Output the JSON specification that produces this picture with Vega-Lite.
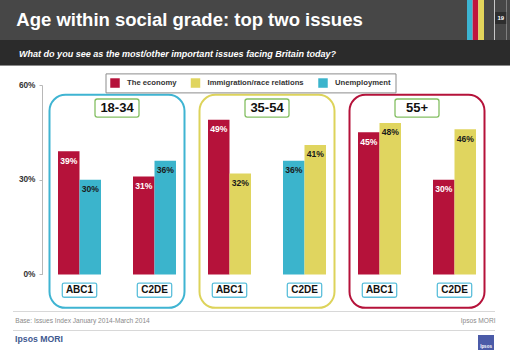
{
  "$schema": "https://vega.github.io/schema/vega-lite/v6.json",
  "background": "white",
  "padding": 0,
  "spacing": 0,
  "resolve": {"scale": {"color": "independent"}, "legend": {"color": "independent"}},
  "config": {"view": {"stroke": null}, "concat": {"spacing": 0}, "font": "Liberation Sans"},
  "datasets": {
    "bars": [
      {"age": "18-34", "grade": "ABC1", "grp": "18-34 ABC1", "issue": "The economy", "value": 0.39},
      {"age": "18-34", "grade": "ABC1", "grp": "18-34 ABC1", "issue": "Unemployment", "value": 0.30},
      {"age": "18-34", "grade": "C2DE", "grp": "18-34 C2DE", "issue": "The economy", "value": 0.31},
      {"age": "18-34", "grade": "C2DE", "grp": "18-34 C2DE", "issue": "Unemployment", "value": 0.36},
      {"age": "35-54", "grade": "ABC1", "grp": "35-54 ABC1", "issue": "The economy", "value": 0.49},
      {"age": "35-54", "grade": "ABC1", "grp": "35-54 ABC1", "issue": "Immigration/race relations", "value": 0.32},
      {"age": "35-54", "grade": "C2DE", "grp": "35-54 C2DE", "issue": "Unemployment", "value": 0.36},
      {"age": "35-54", "grade": "C2DE", "grp": "35-54 C2DE", "issue": "Immigration/race relations", "value": 0.41},
      {"age": "55+", "grade": "ABC1", "grp": "55+ ABC1", "issue": "The economy", "value": 0.45},
      {"age": "55+", "grade": "ABC1", "grp": "55+ ABC1", "issue": "Immigration/race relations", "value": 0.48},
      {"age": "55+", "grade": "C2DE", "grp": "55+ C2DE", "issue": "The economy", "value": 0.30},
      {"age": "55+", "grade": "C2DE", "grp": "55+ C2DE", "issue": "Immigration/race relations", "value": 0.46}
    ],
    "groups": [
      {"age": "18-34", "first": "18-34 ABC1", "last": "18-34 C2DE"},
      {"age": "35-54", "first": "35-54 ABC1", "last": "35-54 C2DE"},
      {"age": "55+", "first": "55+ ABC1", "last": "55+ C2DE"}
    ],
    "grades": [
      {"grp": "18-34 ABC1", "grade": "ABC1"},
      {"grp": "18-34 C2DE", "grade": "C2DE"},
      {"grp": "35-54 ABC1", "grade": "ABC1"},
      {"grp": "35-54 C2DE", "grade": "C2DE"},
      {"grp": "55+ ABC1", "grade": "ABC1"},
      {"grp": "55+ C2DE", "grade": "C2DE"}
    ]
  },
  "vconcat": [
    {
      "spacing": 0,
      "hconcat": [
        {"width": 379, "height": 40, "data": {"values": [{}]}, "layer": [
          {"mark": {"type": "rect", "fill": "#474747"}, "encoding": {}},
          {"mark": {"type": "text", "text": "Age within social grade: top two issues", "fill": "white", "fontSize": 18.5, "fontWeight": "bold", "baseline": "middle", "align": "center"}, "encoding": {}}
        ]},
        {"width": 88, "height": 40, "data": {"values": [{}]}, "mark": {"type": "rect", "fill": "#474747"}, "encoding": {}},
        {"width": 17, "height": 40, "data": {"values": [{"stripe": "s1"}, {"stripe": "s2"}, {"stripe": "s3"}]}, "mark": {"type": "rect"}, "encoding": {
          "x": {"field": "stripe", "type": "nominal", "axis": null, "scale": {"paddingInner": 0, "paddingOuter": 0}},
          "color": {"field": "stripe", "type": "nominal", "legend": null, "scale": {"domain": ["s1", "s2", "s3"], "range": ["#3cb4d2", "#c0163f", "#e3d55b"]}}
        }},
        {"width": 10.3, "height": 40, "data": {"values": [{}]}, "mark": {"type": "rect", "fill": "#474747"}, "encoding": {}},
        {"spacing": 0, "vconcat": [
          {"width": 11.7, "height": 12, "data": {"values": [{}]}, "mark": {"type": "rect", "fill": "#474747"}, "encoding": {}},
          {"width": 11.7, "height": 12, "data": {"values": [{}]}, "layer": [
            {"mark": {"type": "rect", "fill": "#2e2e2e"}, "encoding": {}},
            {"mark": {"type": "text", "text": "19", "fill": "white", "fontSize": 6, "fontWeight": "bold", "baseline": "middle", "align": "center"}, "encoding": {}}
          ]},
          {"width": 11.7, "height": 16, "data": {"values": [{}]}, "mark": {"type": "rect", "fill": "#474747"}, "encoding": {}}
        ]},
        {"width": 4, "height": 40, "data": {"values": [{}]}, "mark": {"type": "rect", "fill": "#474747"}, "encoding": {}}
      ]
    },
    {
      "spacing": 0,
      "hconcat": [
        {"width": 355, "height": 25, "data": {"values": [{}]}, "layer": [
          {"mark": {"type": "rect", "fill": "#2b2b2b"}, "encoding": {}},
          {"mark": {"type": "text", "text": "What do you see as the most/other important issues facing Britain today?", "fill": "white", "fontSize": 9.05, "fontWeight": "bold", "fontStyle": "italic", "baseline": "middle", "align": "center", "dy": 1}, "encoding": {}}
        ]},
        {"width": 155, "height": 25, "data": {"values": [{}]}, "mark": {"type": "rect", "fill": "#2b2b2b"}, "encoding": {}}
      ]
    },
    {"width": 510, "height": 1, "data": {"values": [{}]}, "mark": {"type": "rect", "fill": "#8a8a8a"}, "encoding": {}},
    {"width": 510, "height": 5.2, "data": {"values": [{}]}, "mark": {"type": "rect", "fill": "white"}, "encoding": {}},
    {
      "spacing": 0,
      "bounds": "flush",
      "hconcat": [
        {"width": 42, "height": 1, "data": {"values": [{}]}, "mark": {"type": "rect", "fill": "white", "opacity": 0}, "encoding": {}},
        {
          "width": 450,
          "height": 189.4,
          "layer": [
            {
              "data": {"name": "groups"},
              "mark": {"type": "rect", "filled": false, "cornerRadius": 16, "strokeWidth": 2},
              "encoding": {
                "x": {"field": "first", "type": "nominal", "bandPosition": 0, "axis": null, "scale": {"domain": ["18-34 ABC1", "18-34 C2DE", "35-54 ABC1", "35-54 C2DE", "55+ ABC1", "55+ C2DE"], "paddingInner": 0.2, "paddingOuter": 0.1}},
                "x2": {"field": "last", "bandPosition": 1},
                "y": {"datum": -0.106, "type": "quantitative", "scale": {"domain": [0, 0.6], "nice": false},
                  "axis": {"values": [0, 0.3, 0.6], "format": ".0%", "title": null, "grid": false, "domainColor": "#b8b8b8", "tickColor": "#b8b8b8", "tickSize": 3, "labelFontSize": 8.3, "labelFontWeight": "bold", "labelColor": "#333333", "labelPadding": 4}},
                "y2": {"datum": 0.569},
                "stroke": {"condition": [{"test": "datum.age === '18-34'", "value": "#3fb4d2"}, {"test": "datum.age === '35-54'", "value": "#ddd35a"}], "value": "#b5123a"}
              }
            },
            {
              "data": {"name": "bars"},
              "transform": [{"window": [{"op": "row_number", "as": "slot"}], "groupby": ["grp"]}, {"filter": "datum.slot === 1"}],
              "mark": {"type": "rect"},
              "encoding": {
                "x": {"field": "grp", "type": "nominal", "bandPosition": 0.1417},
                "x2": {"field": "grp", "bandPosition": 0.5},
                "y": {"field": "value", "type": "quantitative"},
                "y2": {"datum": 0},
                "color": {"field": "issue", "type": "nominal",
                  "scale": {"domain": ["The economy", "Immigration/race relations", "Unemployment"], "range": ["#b5123a", "#e0d55f", "#3bb4cc"]},
                  "legend": {"orient": "none", "legendX": 105.5, "legendY": -11.6, "direction": "horizontal", "title": null, "symbolType": "square", "symbolSize": 90, "symbolStrokeWidth": 0, "labelFontSize": 7.7, "labelFontWeight": "bold", "labelColor": "#333333", "labelOffset": 7, "columnPadding": 13.5, "padding": 4.5, "strokeColor": "#8c8c8c", "fillColor": "white"}}
              }
            },
            {
              "data": {"name": "bars"},
              "transform": [{"window": [{"op": "row_number", "as": "slot"}], "groupby": ["grp"]}, {"filter": "datum.slot === 2"}],
              "mark": {"type": "rect"},
              "encoding": {
                "x": {"field": "grp", "type": "nominal", "bandPosition": 0.5},
                "x2": {"field": "grp", "bandPosition": 0.8583},
                "y": {"field": "value", "type": "quantitative"},
                "y2": {"datum": 0},
                "color": {"field": "issue", "type": "nominal"}
              }
            },
            {
              "data": {"name": "bars"},
              "transform": [{"window": [{"op": "row_number", "as": "slot"}], "groupby": ["grp"]}, {"filter": "datum.slot === 1"}],
              "mark": {"type": "text", "baseline": "middle", "align": "center", "dy": 9.5, "fontSize": 8.6, "fontWeight": "bold"},
              "encoding": {
                "x": {"field": "grp", "type": "nominal", "bandPosition": 0.3208},
                "y": {"field": "value", "type": "quantitative"},
                "text": {"field": "value", "type": "quantitative", "format": ".0%"},
                "fill": {"condition": {"test": "datum.issue === 'The economy'", "value": "white"}, "value": "#1a1a1a"}
              }
            },
            {
              "data": {"name": "bars"},
              "transform": [{"window": [{"op": "row_number", "as": "slot"}], "groupby": ["grp"]}, {"filter": "datum.slot === 2"}],
              "mark": {"type": "text", "baseline": "middle", "align": "center", "dy": 9.5, "fontSize": 8.6, "fontWeight": "bold"},
              "encoding": {
                "x": {"field": "grp", "type": "nominal", "bandPosition": 0.6792},
                "y": {"field": "value", "type": "quantitative"},
                "text": {"field": "value", "type": "quantitative", "format": ".0%"},
                "fill": {"condition": {"test": "datum.issue === 'The economy'", "value": "white"}, "value": "#1a1a1a"}
              }
            },
            {
              "data": {"name": "groups"},
              "mark": {"type": "point", "shape": "M-0.9,-0.41L0.9,-0.41Q1,-0.41 1,-0.31L1,0.31Q1,0.41 0.9,0.41L-0.9,0.41Q-1,0.41 -1,0.31L-1,-0.31Q-1,-0.41 -0.9,-0.41Z", "size": 1936, "filled": true, "fill": "white", "stroke": "#84bf63", "strokeWidth": 1.3, "opacity": 1},
              "encoding": {
                "x": {"field": "first", "type": "nominal", "bandPosition": 1.125},
                "y": {"datum": 0.527, "type": "quantitative"}
              }
            },
            {
              "data": {"name": "groups"},
              "mark": {"type": "text", "baseline": "middle", "align": "center", "fontSize": 13, "fontWeight": "bold", "fill": "#111111"},
              "encoding": {
                "x": {"field": "first", "type": "nominal", "bandPosition": 1.125},
                "y": {"datum": 0.527, "type": "quantitative"},
                "text": {"field": "age"}
              }
            },
            {
              "data": {"name": "grades"},
              "mark": {"type": "point", "shape": "M-0.9,-0.41L0.9,-0.41Q1,-0.41 1,-0.31L1,0.31Q1,0.41 0.9,0.41L-0.9,0.41Q-1,0.41 -1,0.31L-1,-0.31Q-1,-0.41 -0.9,-0.41Z", "size": 1183, "filled": true, "fill": "white", "stroke": "#5cbfdb", "strokeWidth": 1.3, "opacity": 1},
              "encoding": {
                "x": {"field": "grp", "type": "nominal"},
                "y": {"datum": -0.05, "type": "quantitative"}
              }
            },
            {
              "data": {"name": "grades"},
              "mark": {"type": "text", "baseline": "middle", "align": "center", "fontSize": 10, "fontWeight": "bold", "fill": "#111111"},
              "encoding": {
                "x": {"field": "grp", "type": "nominal"},
                "y": {"datum": -0.05, "type": "quantitative"},
                "text": {"field": "grade"}
              }
            }
          ]
        }
      ]
    },
    {"width": 510, "height": 1.8, "data": {"values": [{}]}, "mark": {"type": "rect", "fill": "white"}, "encoding": {}},
    {
      "spacing": 0,
      "hconcat": [
        {"width": 13, "height": 1, "data": {"values": [{}]}, "mark": {"type": "rect", "fill": "white"}, "encoding": {}},
        {"width": 482, "height": 1, "data": {"values": [{}]}, "mark": {"type": "rect", "fill": "#d8d8d8"}, "encoding": {}}
      ]
    },
    {
      "spacing": 0,
      "hconcat": [
        {"width": 165, "height": 18, "data": {"values": [{}]}, "mark": {"type": "text", "text": "Base: Issues Index January 2014-March 2014", "fill": "#8a8a8a", "fontSize": 6.6, "baseline": "middle", "align": "center"}, "encoding": {}},
        {"width": 280.8, "height": 18, "data": {"values": [{}]}, "mark": {"type": "rect", "fill": "white"}, "encoding": {}},
        {"width": 64.2, "height": 18, "data": {"values": [{}]}, "mark": {"type": "text", "text": "Ipsos MORI", "fill": "#8a8a8a", "fontSize": 6.6, "baseline": "middle", "align": "center"}, "encoding": {}}
      ]
    },
    {
      "spacing": 0,
      "hconcat": [
        {"width": 13, "height": 1, "data": {"values": [{}]}, "mark": {"type": "rect", "fill": "white"}, "encoding": {}},
        {"width": 482, "height": 1, "data": {"values": [{}]}, "mark": {"type": "rect", "fill": "#d8d8d8"}, "encoding": {}}
      ]
    },
    {
      "spacing": 0,
      "hconcat": [
        {"width": 78, "height": 15.4, "data": {"values": [{}]}, "mark": {"type": "text", "text": "Ipsos MORI", "fill": "#41598f", "fontSize": 8.7, "fontWeight": "bold", "baseline": "middle", "align": "center"}, "encoding": {}},
        {"width": 399.7, "height": 21, "data": {"values": [{}]}, "mark": {"type": "rect", "fill": "white"}, "encoding": {}},
        {"spacing": 0, "vconcat": [
          {"width": 16, "height": 3.3, "data": {"values": [{}]}, "mark": {"type": "rect", "fill": "white"}, "encoding": {}},
          {"width": 16, "height": 15, "data": {"values": [{}]}, "layer": [
            {"mark": {"type": "rect", "fill": "#4b5ba8"}, "encoding": {}},
            {"mark": {"type": "text", "text": "Ipsos", "fill": "white", "fontSize": 4.5, "fontWeight": "bold", "baseline": "middle", "align": "center", "dy": 4}, "encoding": {}}
          ]},
          {"width": 16, "height": 2.7, "data": {"values": [{}]}, "mark": {"type": "rect", "fill": "white"}, "encoding": {}}
        ]}
      ]
    }
  ]
}
